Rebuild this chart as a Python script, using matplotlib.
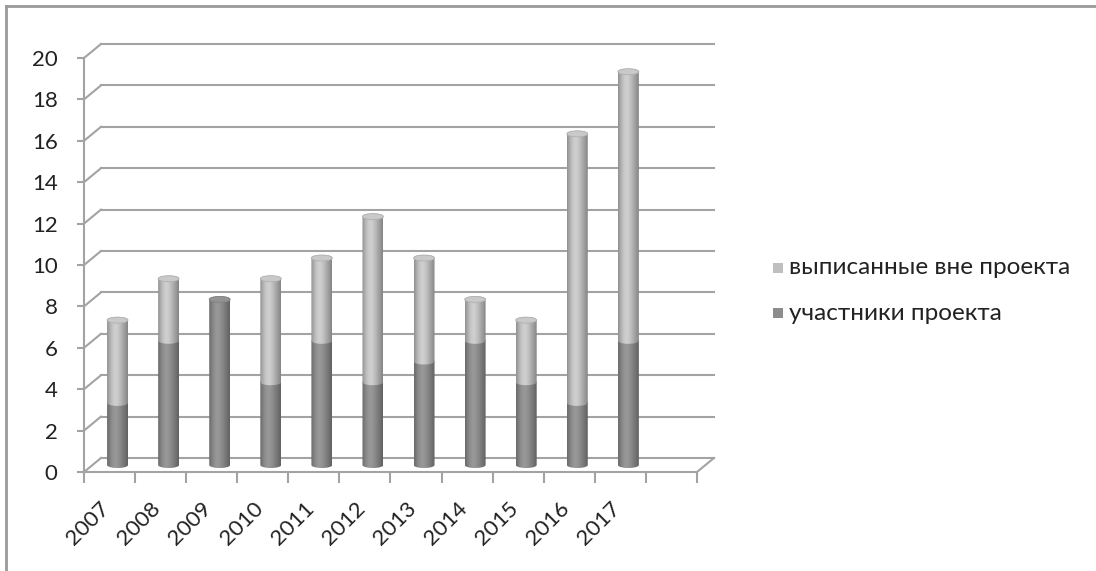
import matplotlib
matplotlib.use("Agg")
import matplotlib.pyplot as plt
import matplotlib.transforms as mtransforms
from matplotlib.patches import Ellipse, PathPatch, Rectangle
from matplotlib.path import Path
import numpy as np

plt.rcParams['font.family'] = ['Lato', 'DejaVu Sans']

# данные
years = ['2007', '2008', '2009', '2010', '2011', '2012',
         '2013', '2014', '2015', '2016', '2017']
participants = [3, 6, 8, 4, 6, 4, 5, 6, 4, 3, 6]
outside = [4, 3, 0, 5, 4, 8, 5, 2, 3, 13, 13]
label_outside = 'выписанные вне проекта'
label_part = 'участники проекта'

n_slots = 12
grid_col = '#a3a3a3'
text_col = '#222222'
dark = (0.55, 0.55, 0.55)
light = (0.75, 0.75, 0.75)

fig = plt.figure(figsize=(10.96, 5.71), dpi=100)
W, H = 1096, 571
ax = fig.add_axes([84 / W, (H - 472) / H, (697 - 84) / W, 414 / H])
ax.set_xlim(0, n_slots)
ax.set_ylim(0, 20)
ax.patch.set_alpha(0)

# сдвиг задней стенки и середины глубины (в пикселях)
back = mtransforms.offset_copy(ax.transData, fig, x=17, y=14, units='dots')
mid = mtransforms.offset_copy(ax.transData, fig, x=8, y=7, units='dots')

for v in range(0, 21, 2):
    ax.plot([0, n_slots], [v, v], transform=back, color=grid_col, lw=1.5,
            clip_on=False, zorder=1)
    # диагональ от передней оси к задней стенке
    p0 = ax.transData.transform((0, v))
    p1 = back.transform((0, v))
    ax.plot([p0[0], p1[0]], [p0[1], p1[1]], transform=None, color=grid_col,
            lw=1.5, clip_on=False, zorder=1)

# пол: передняя кромка и правая диагональ
ax.plot([0, n_slots], [0, 0], color=grid_col, lw=1.5, clip_on=False, zorder=1)
p0 = ax.transData.transform((n_slots, 0))
p1 = back.transform((n_slots, 0))
ax.plot([p0[0], p1[0]], [p0[1], p1[1]], transform=None, color=grid_col,
        lw=1.5, clip_on=False, zorder=1)

for s in ax.spines.values():
    s.set_visible(False)
ax.plot([0, 0], [0, 20], color=grid_col, lw=1.5, clip_on=False, zorder=1)

ax.set_yticks(range(0, 21, 2))
ax.tick_params(axis='y', length=5, width=1.5, color=grid_col, labelsize=16,
               labelcolor=text_col, pad=14)
ax.set_xticks(np.arange(len(years)) + 0.5)
ax.set_xticklabels(years, rotation=45, ha='right', rotation_mode='default')
ax.set_xticks(np.arange(n_slots + 1), minor=True)
ax.tick_params(axis='x', which='major', length=0, labelsize=16,
               labelcolor=text_col, pad=19)
ax.tick_params(axis='x', which='minor', length=8, width=1.5, color=grid_col)
# подписи лет чуть правее центра категории
for lbl in ax.get_xticklabels():
    lbl.set_transform(lbl.get_transform() +
                      mtransforms.ScaledTranslation(4 / 100, 0, fig.dpi_scale_trans))

# цилиндры
bw = 0.41
eh = 6 / 20.7
xs = np.linspace(0, 1, 64)
shade = 0.8 + 0.28 * np.exp(-((xs - 0.4) / 0.35) ** 2) - 0.12 * np.abs(xs - 0.5) ** 3 * 8


def cylinder(xc, y0, y1, col, cap):
    x0, x1 = xc - bw / 2, xc + bw / 2
    t = np.linspace(np.pi, 2 * np.pi, 40)
    bottom = np.column_stack([xc + bw / 2 * np.cos(t), y0 + eh / 2 * np.sin(t)])
    t2 = np.linspace(0, np.pi, 40)
    top = np.column_stack([xc + bw / 2 * np.cos(t2), y1 + eh / 2 * np.sin(t2)])
    verts = np.vstack([bottom, top, bottom[:1]])
    clip = PathPatch(Path(verts), transform=mid, facecolor='none', edgecolor='none')
    ax.add_patch(clip)
    img = np.clip(np.array(col)[None, None, :] * shade[None, :, None], 0, 1)
    im = ax.imshow(img, extent=(x0, x1, y0 - eh, y1 + eh), transform=mid,
                   aspect='auto', interpolation='bilinear', zorder=3)
    im.set_clip_path(clip)
    if cap:
        ax.add_patch(Ellipse((xc, y1), bw, eh, transform=mid, zorder=4,
                             facecolor=np.clip(np.array(col) * 1.05, 0, 1),
                             edgecolor=np.array(col) * 0.92, lw=0.6))


for i in range(len(years)):
    xc = i + 0.5
    p, o = participants[i], outside[i]
    cylinder(xc, 0, p, dark, o == 0)
    if o > 0:
        cylinder(xc, p, p + o, light, True)

ax.set_xlim(0, n_slots)
ax.set_ylim(0, 20)

# легенда
for yy, col, lab in [(268, light, label_outside), (313, dark, label_part)]:
    fig.patches.append(Rectangle((773 / W, (H - yy - 5) / H), 10 / W, 10 / H,
                                 transform=fig.transFigure, facecolor=col,
                                 edgecolor='none'))
    fig.text(789 / W, (H - yy) / H, lab, fontsize=17.5, color=text_col,
             va='center', ha='left')

# рамка
fig.add_artist(plt.Line2D([6 / W, 6 / W], [0, (H - 6) / H], color='#9a9a9a', lw=2))
fig.add_artist(plt.Line2D([6 / W, 1], [(H - 6) / H, (H - 6) / H], color='#9a9a9a', lw=2))

fig.savefig('out.png', dpi=100)
